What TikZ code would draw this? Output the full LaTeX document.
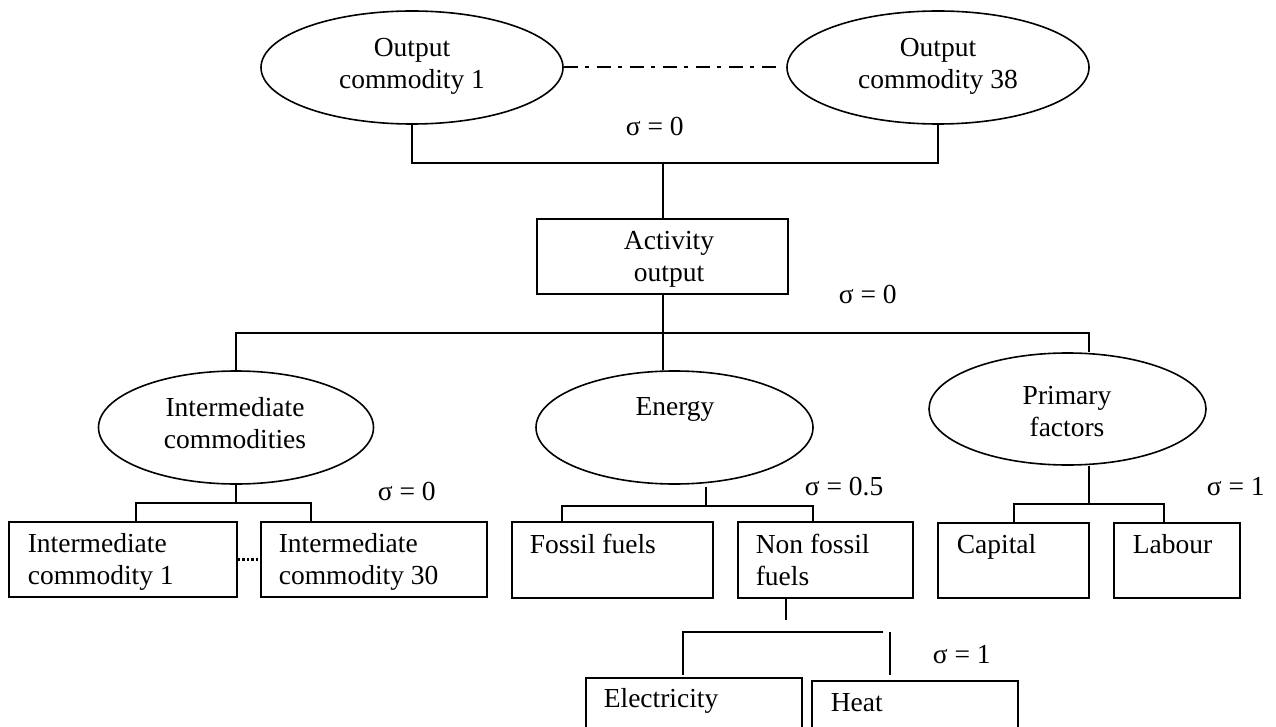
\documentclass[tikz,border=0pt]{standalone}
\usepackage{fontspec}
\setmainfont{Liberation Serif}
\usetikzlibrary{shapes.geometric,calc}
\begin{document}
\begin{tikzpicture}[x=1pt,y=-1pt,line width=1.6pt,
  ell/.style={draw,ellipse,inner sep=0pt},
  bx/.style={draw,rectangle,inner sep=0pt},
  txt/.style={inner sep=0pt,font=\fontsize{27.5}{32}\selectfont},
  dashdotline/.style={line width=2pt,dash pattern=on 14pt off 7pt on 4pt off 8pt},
  dotline/.style={line width=2.2pt,dash pattern=on 2.5pt off 2pt}]
\useasboundingbox (0,0) rectangle (1276,727);
\clip (0,0) rectangle (1276,727);
\fill[white] (0,0) rectangle (1276,727);

% top level
\node[ell,minimum width=302pt,minimum height=113pt] (oc1) at (412,67.5) {};
\node[ell,minimum width=302pt,minimum height=113pt] (oc38) at (938,67.5) {};
\node[txt,anchor=north,align=center] (toc1) at (412,37) {Output\\commodity 1};
\node[txt,anchor=north,align=center] (toc38) at (938,37) {Output\\commodity 38};
\node[txt,anchor=base west] (s1) at (625,136) {σ = 0};
\draw[dashdotline] (oc1.east) -- ([xshift=-9pt]oc38.west);

% activity
\node[bx,minimum width=251pt,minimum height=75pt] (act) at (662.5,256.5) {};
\node[txt,anchor=north,align=center] (tact) at (669,230) {Activity\\output};
\node[txt,anchor=base west] (s2) at (838,303) {σ = 0};
\coordinate (j1) at (663,163);
\draw (oc1.south) |- (j1) -| (oc38.south);
\draw (j1) -- (j1 |- act.north);

% second level
\node[ell,minimum width=275pt,minimum height=113pt] (ic) at (236,427.5) {};
\node[ell,minimum width=277pt,minimum height=113pt] (en) at (674.5,427.5) {};
\node[ell,minimum width=277pt,minimum height=112pt] (pf) at (1067.5,409) {};
\node[txt,anchor=north,align=center] (tic) at (235,397) {Intermediate\\commodities};
\node[txt,anchor=north,align=center] (ten) at (675,397) {Energy};
\node[txt,anchor=north,align=center] (tpf) at (1067,385) {Primary\\factors};
\coordinate (j2) at (663,333);
\coordinate (j2r) at (1089,333);
\draw (act.south -| j2) -- (j2);
\draw (ic.north) |- (j2r) -- (j2r |- pf.north);
\draw (j2) -- (j2 |- en.north);

% intermediate commodities
\node[bx,minimum width=228pt,minimum height=75pt] (ic1) at (123,559.5) {};
\node[bx,minimum width=226pt,minimum height=75pt] (ic30) at (374,559.5) {};
\node[txt,anchor=north west,align=left] (tic1) at (27,533) {Intermediate\\commodity 1};
\node[txt,anchor=north west,align=left] (tic30) at (278,533) {Intermediate\\commodity 30};
\node[txt,anchor=base west] (s3) at (377,500) {σ = 0};
\coordinate (j3) at (236,503);
\draw (ic.south) -- (j3);
\draw ([xshift=13pt]ic1.north) |- (j3) -| ([xshift=-63pt]ic30.north);
\draw[dotline] (ic1.east) -- (ic30.west);

% energy
\node[bx,minimum width=201pt,minimum height=76pt] (ff) at (612.5,560) {};
\node[bx,minimum width=175pt,minimum height=76pt] (nf) at (825.5,560) {};
\node[txt,anchor=north west,align=left] (tff) at (529,533) {Fossil fuels};
\node[txt,anchor=north west,align=left] (tnf) at (755,533) {Non fossil\\fuels};
\node[txt,anchor=base west] (s4) at (804,495) {σ = 0.5};
\coordinate (e0) at (706,487);
\coordinate (j4) at (706,506);
\draw (e0) -- (j4);
\draw ([xshift=-50.5pt]ff.north) |- (j4) -| ([xshift=-12.5pt]nf.north);

% primary factors
\node[bx,minimum width=151pt,minimum height=75pt] (cap) at (1013.5,560.5) {};
\node[bx,minimum width=126pt,minimum height=75pt] (lab) at (1177,560.5) {};
\node[txt,anchor=north west] (tcap) at (956,534) {Capital};
\node[txt,anchor=north west] (tlab) at (1132,534) {Labour};
\node[txt,anchor=base west] (s5) at (1206,495) {σ = 1};
\coordinate (j5) at (1089,504);
\draw (pf.south -| j5) -- (j5);
\draw ([xshift=0.5pt]cap.north) |- (j5) -| ([xshift=-13pt]lab.north);

% non fossil fuels
\node[bx,minimum width=216pt,minimum height=102pt] (el) at (694,729) {};
\node[bx,minimum width=206pt,minimum height=102pt] (ht) at (915,732) {};
\node[txt,anchor=north west] (tel) at (603,688) {Electricity};
\node[txt,anchor=north west] (tht) at (830,693) {Heat};
\node[txt,anchor=base west] (s6) at (932,663) {σ = 1};
\coordinate (n0) at (786,620);
\draw (nf.south -| n0) -- (n0);
\coordinate (j6) at (883,632);
\coordinate (e1) at (683,675);
\draw (e1) |- (j6);
\coordinate (h0) at (890,632);
\coordinate (h1) at (890,675);
\draw (h0) -- (h1);
\end{tikzpicture}
\end{document}
